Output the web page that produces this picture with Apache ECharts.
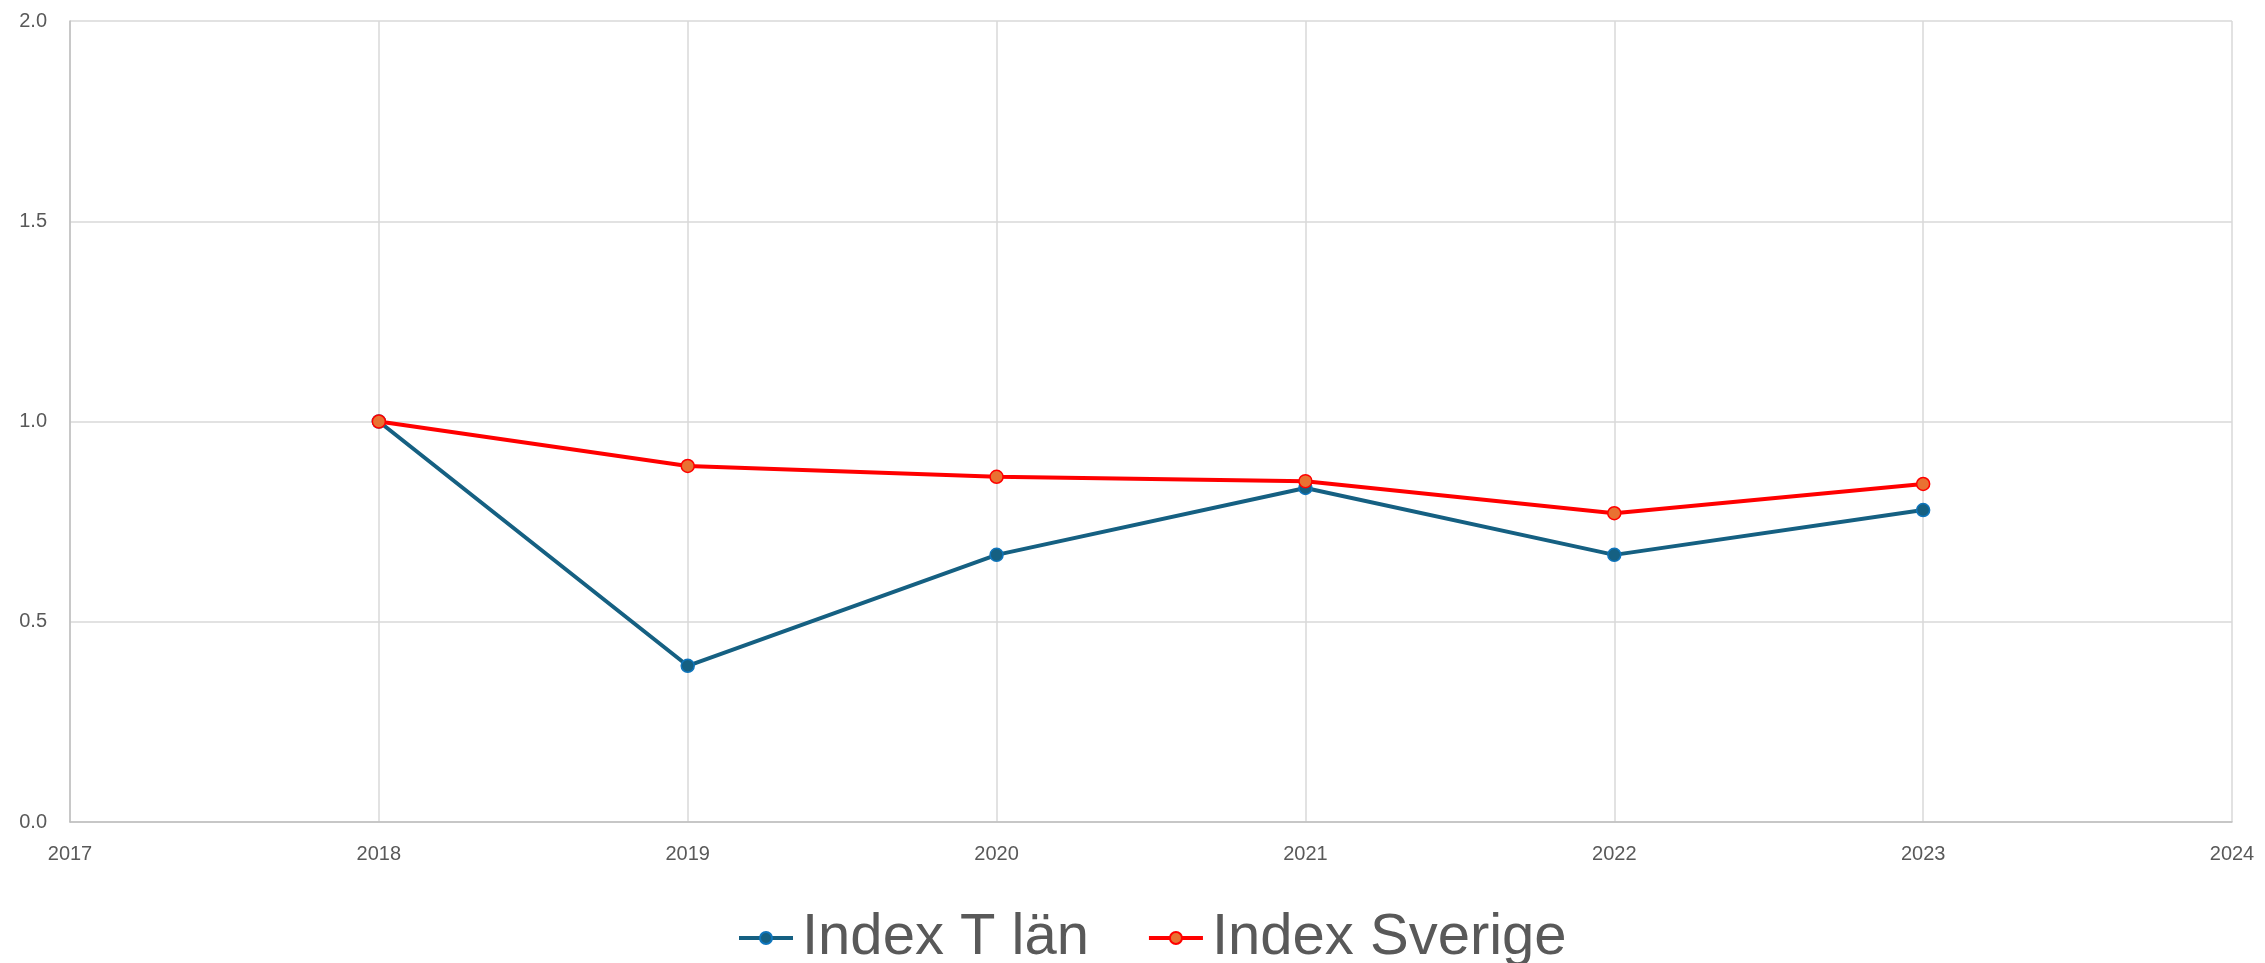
<!DOCTYPE html>
<html>
<head>
<meta charset="utf-8">
<script src="https://cdn.jsdelivr.net/npm/echarts@6/dist/echarts.min.js"></script>
<style>
  html, body { margin: 0; padding: 0; background: #fff; }
  #chart { width: 2265px; height: 963px; }
</style>
</head>
<body>
<div id="chart"></div>
<script>
  // data
  let years = [2018, 2019, 2020, 2021, 2022, 2023]
  let indexTLan = [1.0, 0.39, 0.667, 0.834, 0.667, 0.779]
  let indexSverige = [1.0, 0.889, 0.862, 0.851, 0.771, 0.844]
  let seriesNames = ['Index T län', 'Index Sverige']

  let chart = echarts.init(document.getElementById('chart'))

  let pairs = (vals) => years.map((y, i) => [y, vals[i]])

  let option = {
    animation: false,
    textStyle: { fontFamily: 'Liberation Sans, Arial, sans-serif' },
    grid: {
      left: 70,
      right: 33,
      top: 21,
      bottom: 141,
      containLabel: false
    },
    legend: {
      data: seriesNames,
      left: 732,
      top: 904,
      itemWidth: 54,
      itemHeight: 15,
      itemGap: 58,
      lineStyle: { width: 4 },
      textStyle: {
        fontSize: 58,
        color: '#595959',
        padding: [0, 0, 0, 4]
      }
    },
    xAxis: {
      type: 'value',
      min: 2017,
      max: 2024,
      interval: 1,
      axisLine: { show: true, lineStyle: { color: '#BFBFBF', width: 1.5 } },
      axisTick: { show: false },
      axisLabel: {
        color: '#595959',
        fontSize: 20,
        margin: 22,
        formatter: (v) => String(v)
      },
      splitLine: { show: true, lineStyle: { color: '#D9D9D9', width: 1.5 } }
    },
    yAxis: {
      type: 'value',
      min: 0,
      max: 2,
      interval: 0.5,
      axisLine: { show: true, lineStyle: { color: '#BFBFBF', width: 1.5 } },
      axisTick: { show: false },
      axisLabel: {
        color: '#595959',
        fontSize: 20,
        margin: 23,
        formatter: (v) => v.toFixed(1)
      },
      splitLine: { show: true, lineStyle: { color: '#D9D9D9', width: 1.5 } }
    },
    series: [
      {
        name: seriesNames[0],
        type: 'line',
        data: pairs(indexTLan),
        symbol: 'circle',
        symbolSize: 13,
        lineStyle: { color: '#156082', width: 4 },
        itemStyle: { color: '#156082', borderColor: '#0F75BC', borderWidth: 1.5 },
        z: 2
      },
      {
        name: seriesNames[1],
        type: 'line',
        data: pairs(indexSverige),
        symbol: 'circle',
        symbolSize: 13,
        lineStyle: { color: '#FF0000', width: 4 },
        itemStyle: { color: '#E97132', borderColor: '#FF0000', borderWidth: 1.5 },
        z: 3
      }
    ]
  }
  chart.setOption(option)
</script>
</body>
</html>
